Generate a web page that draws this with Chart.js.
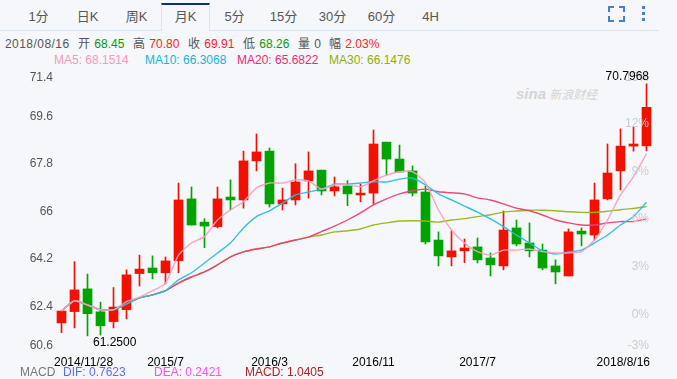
<!DOCTYPE html>
<html>
<head>
<meta charset="utf-8">
<title>月K</title>
<script src="https://cdn.jsdelivr.net/npm/chart.js@4/dist/chart.umd.min.js"></script>
<style>
  html, body { margin: 0; padding: 0; background: #f6f7fa; }
  body { width: 677px; height: 379px; position: relative; overflow: hidden;
         font-family: "Liberation Sans", "Noto Sans CJK SC", sans-serif; font-size: 12px; color: #555; }
  canvas { position: absolute; left: 0; top: 0; }
  .t { position: absolute; white-space: nowrap; line-height: 14px; }
  .t span { margin-left: 1px; }
  .tab { position: absolute; top: 9px; width: 49px; text-align: center; font-size: 13px; line-height: 15px; color: #555; }
  #tabline { position: absolute; left: 0; top: 30px; width: 659px; height: 1px; background: #d8e3f5; }
  #tabsel { position: absolute; left: 161px; top: 3px; width: 47px; height: 26px; background: #f6f7fa;
            border-top: 2px solid #0d2c8c; border-left: 1px solid #d8e3f5; border-right: 1px solid #d8e3f5; }
  #mark { position: absolute; left: 516px; top: 85px; color: #d4d4d4; white-space: nowrap; }
  #mark b { font-style: italic; font-size: 15px; }
  #mark span { font-size: 12px; font-style: italic; }
</style>
</head>
<body>
<div id="tabline"></div>
<div id="tabsel"></div>
<div id="tabs"></div>
<svg style="position:absolute;left:600px;top:0" width="60" height="28">
  <path d="M9 12V7h5M19 7h5v5M24 16v5h-5M14 21H9v-5" fill="none" stroke="#3f7fd6" stroke-width="2"/>
  <rect x="42" y="6" width="3" height="3" fill="#3f7fd6"/>
  <rect x="42" y="12" width="3" height="3" fill="#3f7fd6"/>
  <rect x="42" y="18" width="3" height="3" fill="#3f7fd6"/>
</svg>

<div class="t" style="left:5px;top:37px;letter-spacing:0.45px">2018/08/16</div>
<div class="t" style="left:78px;top:37px">开 <span style="color:#0a9a0a">68.45</span></div>
<div class="t" style="left:133px;top:37px">高 <span style="color:#f22">70.80</span></div>
<div class="t" style="left:188px;top:37px">收 <span style="color:#f22">69.91</span></div>
<div class="t" style="left:243px;top:37px">低 <span style="color:#0a9a0a">68.26</span></div>
<div class="t" style="left:298px;top:37px">量 <span>0</span></div>
<div class="t" style="left:329px;top:37px">幅 <span style="color:#f22">2.03%</span></div>

<div class="t" style="left:54px;top:53px;color:#f59ab8">MA5: 68.1514</div>
<div class="t" style="left:145px;top:53px;color:#10b8d8">MA10: 66.3068</div>
<div class="t" style="left:237px;top:53px;color:#ee2a70">MA20: 65.6822</div>
<div class="t" style="left:329px;top:53px;color:#8fb000">MA30: 66.1476</div>

<div id="mark"><b>sina</b> <span>新浪财经</span></div>

<canvas id="kline" width="677" height="379"></canvas>

<div class="t" style="left:20px;top:365px;color:#777">MACD</div>
<div class="t" style="left:63px;top:365px;color:#5a6cf0">DIF: 0.7623</div>
<div class="t" style="left:154px;top:365px;color:#ee55ee">DEA: 0.2421</div>
<div class="t" style="left:245px;top:365px;color:#b22222">MACD: 1.0405</div>

<script>
  var tabNames = ['1分', '日K', '周K', '月K', '5分', '15分', '30分', '60分', '4H'];

  var months = ['2014/11/28', '2014/12',
    '2015/1', '2015/2', '2015/3', '2015/4', '2015/5', '2015/6', '2015/7', '2015/8', '2015/9', '2015/10', '2015/11', '2015/12',
    '2016/1', '2016/2', '2016/3', '2016/4', '2016/5', '2016/6', '2016/7', '2016/8', '2016/9', '2016/10', '2016/11', '2016/12',
    '2017/1', '2017/2', '2017/3', '2017/4', '2017/5', '2017/6', '2017/7', '2017/8', '2017/9', '2017/10', '2017/11', '2017/12',
    '2018/1', '2018/2', '2018/3', '2018/4', '2018/5', '2018/6', '2018/7', '2018/8/16'];

  var opens = [61.74, 62.17, 63.03, 62.16, 61.79, 62.24, 63.61, 63.82, 63.64, 64.10,
    66.44, 65.56, 65.39, 66.51, 66.40, 67.88, 68.25, 66.25, 66.40, 67.12,
    67.53, 66.74, 66.93, 66.59, 66.66, 68.59, 67.95, 67.50, 66.70, 64.88,
    64.24, 64.47, 64.62, 64.20, 63.90, 65.34, 64.77, 64.50, 63.90, 63.52,
    65.22, 65.07, 66.44, 67.50, 68.44, 68.45];
  var closes = [62.19, 62.99, 62.09, 61.63, 62.34, 63.56, 63.78, 63.64, 64.09, 66.40,
    65.45, 65.41, 66.44, 66.40, 67.88, 68.22, 66.25, 66.40, 67.08, 67.50,
    66.74, 66.90, 66.63, 66.66, 68.52, 67.95, 67.46, 66.66, 64.81, 64.28,
    64.47, 64.58, 64.13, 63.94, 65.26, 64.73, 64.47, 63.82, 63.67, 65.19,
    65.11, 66.40, 67.42, 68.44, 68.52, 69.91];
  var highs = [62.20, 64.06, 63.59, 62.53, 63.08, 63.75, 64.31, 64.28, 64.24, 67.04,
    66.89, 65.69, 66.89, 67.16, 68.25, 68.90, 68.37, 66.85, 67.77, 68.22,
    67.53, 67.27, 67.13, 67.00, 69.05, 68.59, 68.48, 67.69, 66.93, 65.19,
    65.22, 64.92, 64.96, 64.39, 65.98, 65.64, 65.53, 64.73, 64.13, 65.30,
    65.34, 67.04, 68.52, 69.09, 69.16, 70.80];
  var lows = [61.37, 61.55, 61.25, 61.28, 61.55, 61.89, 63.14, 63.41, 63.22, 63.64,
    65.45, 64.59, 65.34, 66.02, 66.09, 67.50, 66.13, 66.02, 66.21, 66.47,
    66.59, 66.55, 66.18, 66.33, 66.25, 67.34, 67.46, 66.55, 64.73, 63.90,
    63.90, 64.02, 64.01, 63.52, 63.75, 64.66, 64.24, 63.75, 63.22, 63.52,
    64.66, 64.88, 66.40, 66.78, 68.25, 68.26];

  var ma5 = [62.19, 62.58, 62.42, 62.24, 62.24, 62.55, 62.72, 62.96, 63.25, 64.31,
    64.77, 65.01, 65.64, 66.02, 66.33, 66.86, 67.04, 67.04, 67.16, 67.12,
    66.81, 66.97, 66.97, 66.90, 67.13, 67.34, 67.47, 67.47, 67.05, 66.02,
    65.26, 64.77, 64.44, 64.31, 64.50, 64.50, 64.54, 64.44, 64.39, 64.39,
    64.44, 64.88, 65.64, 66.59, 67.28, 68.15];
  var ma10 = [62.19, 62.58, 62.42, 62.24, 62.24, 62.46, 62.69, 62.80, 62.96, 63.37,
    63.64, 64.01, 64.39, 64.77, 65.34, 65.77, 65.99, 66.28, 66.59, 66.70,
    66.81, 67.00, 67.00, 67.04, 67.09, 67.08, 67.19, 67.23, 66.97, 66.63,
    66.40, 66.17, 65.94, 65.68, 65.39, 65.07, 64.77, 64.47, 64.35, 64.43,
    64.50, 64.77, 65.07, 65.45, 65.77, 66.31];
  var ma20 = [62.19, 62.58, 62.42, 62.24, 62.24, 62.46, 62.69, 62.80, 62.96, 63.25,
    63.48, 63.67, 63.94, 64.24, 64.43, 64.54, 64.62, 64.77, 64.88, 64.99,
    65.20, 65.41, 65.64, 65.91, 66.21, 66.44, 66.63, 66.75, 66.81, 66.71,
    66.67, 66.63, 66.48, 66.40, 66.25, 66.09, 65.99, 65.83, 65.64, 65.53,
    65.45, 65.45, 65.53, 65.58, 65.58, 65.68];
  var ma30 = [62.19, 62.58, 62.42, 62.24, 62.24, 62.46, 62.69, 62.80, 62.96, 63.25,
    63.48, 63.67, 63.94, 64.24, 64.43, 64.54, 64.62, 64.77, 64.88, 64.99,
    65.07, 65.19, 65.23, 65.30, 65.45, 65.53, 65.60, 65.61, 65.60, 65.56,
    65.64, 65.69, 65.77, 65.84, 65.94, 65.98, 66.01, 66.01, 65.99, 65.95,
    65.93, 65.93, 65.97, 66.03, 66.08, 66.15];

  var priceTicks = [71.4, 69.6, 67.8, 66, 64.2, 62.4, 60.6];
  var pctTicks = [15, 12, 9, 6, 3, 0, -3];
  var dateTickIdx = [0, 8, 16, 24, 32, 45];

  var tabsEl = document.getElementById('tabs');
  tabNames.forEach(function(name, i){
    var d = document.createElement('div');
    d.className = 'tab';
    d.style.left = (14 + i * 49) + 'px';
    d.textContent = name;
    tabsEl.appendChild(d);
  });

  var upColor = '#f21000';
  var downColor = '#00a300';
  var candleColors = opens.map(function(o, i){ return closes[i] >= o ? upColor : downColor; });

  function pairs(a, b){
    return a.map(function(v, i){ return [v, b[i]]; });
  }

  function maLine(label, data, color, order){
    return {
      type: 'line', label: label, data: data, order: order,
      borderColor: color, borderWidth: 1.4, tension: 0.2,
      pointRadius: 0, fill: false, yAxisID: 'y'
    };
  }

  // texts around the plot: they are clamped inside the area like on the original
  var axisText = {
    id: 'axisText',
    afterDatasetsDraw: function(chart){
      var ctx = chart.ctx, x = chart.scales.x, y = chart.scales.y, pct = chart.scales.pct;
      var top = chart.chartArea.top, bottom = chart.chartArea.bottom;
      function clampY(p){ return Math.max(top + 9, Math.min(bottom - 8, p)) + 1; }
      ctx.save();
      ctx.textBaseline = 'middle';
      ctx.font = '12px "Liberation Sans"';

      ctx.textAlign = 'right';
      ctx.fillStyle = '#ccc';
      pctTicks.forEach(function(v){
        ctx.fillText(v + '%', 649, clampY(pct.getPixelForValue(v)));
      });
      ctx.fillStyle = '#555';
      priceTicks.forEach(function(v){
        ctx.fillText(String(v), 53, clampY(y.getPixelForValue(v)));
      });

      ctx.fillStyle = '#000';
      dateTickIdx.forEach(function(idx, i){
        ctx.textAlign = i === 0 ? 'left' : (i === dateTickIdx.length - 1 ? 'right' : 'center');
        var px = i === 0 ? 54 : (i === dateTickIdx.length - 1 ? 650 : x.getPixelForValue(idx));
        ctx.fillText(months[idx], px, 363);
      });

      // highest and lowest of the range
      ctx.textAlign = 'right';
      ctx.fillText('70.7968', 649, 77);
      ctx.textAlign = 'left';
      ctx.fillText('61.2500', 93, 343);
      ctx.restore();
    }
  };

  new Chart(document.getElementById('kline'), {
    data: {
      labels: months,
      datasets: [
        maLine('MA5', ma5, 'rgba(245,160,188,0.95)', 1),
        maLine('MA10', ma10, 'rgba(40,190,220,0.95)', 2),
        maLine('MA20', ma20, 'rgba(238,60,120,0.95)', 3),
        maLine('MA30', ma30, 'rgba(150,180,30,0.95)', 4),
        {
          type: 'bar', label: 'body', data: pairs(opens, closes), order: 5, grouped: false,
          backgroundColor: candleColors, barThickness: 9, borderWidth: 0, borderSkipped: false
        },
        {
          type: 'bar', label: 'wick', data: pairs(lows, highs), order: 6, grouped: false,
          backgroundColor: candleColors, barThickness: 1, borderWidth: 0, borderSkipped: false
        }
      ]
    },
    options: {
      responsive: false,
      animation: false,
      layout: { padding: { left: 55, top: 68, right: 24, bottom: 26 } },
      plugins: { legend: { display: false }, tooltip: { enabled: false } },
      scales: {
        x: { display: false, offset: true },
        y: { display: false, min: 60.6, max: 71.4 },
        pct: { display: false, position: 'right', min: -2.5, max: 15.43 }
      }
    },
    plugins: [axisText]
  });
</script>
</body>
</html>
